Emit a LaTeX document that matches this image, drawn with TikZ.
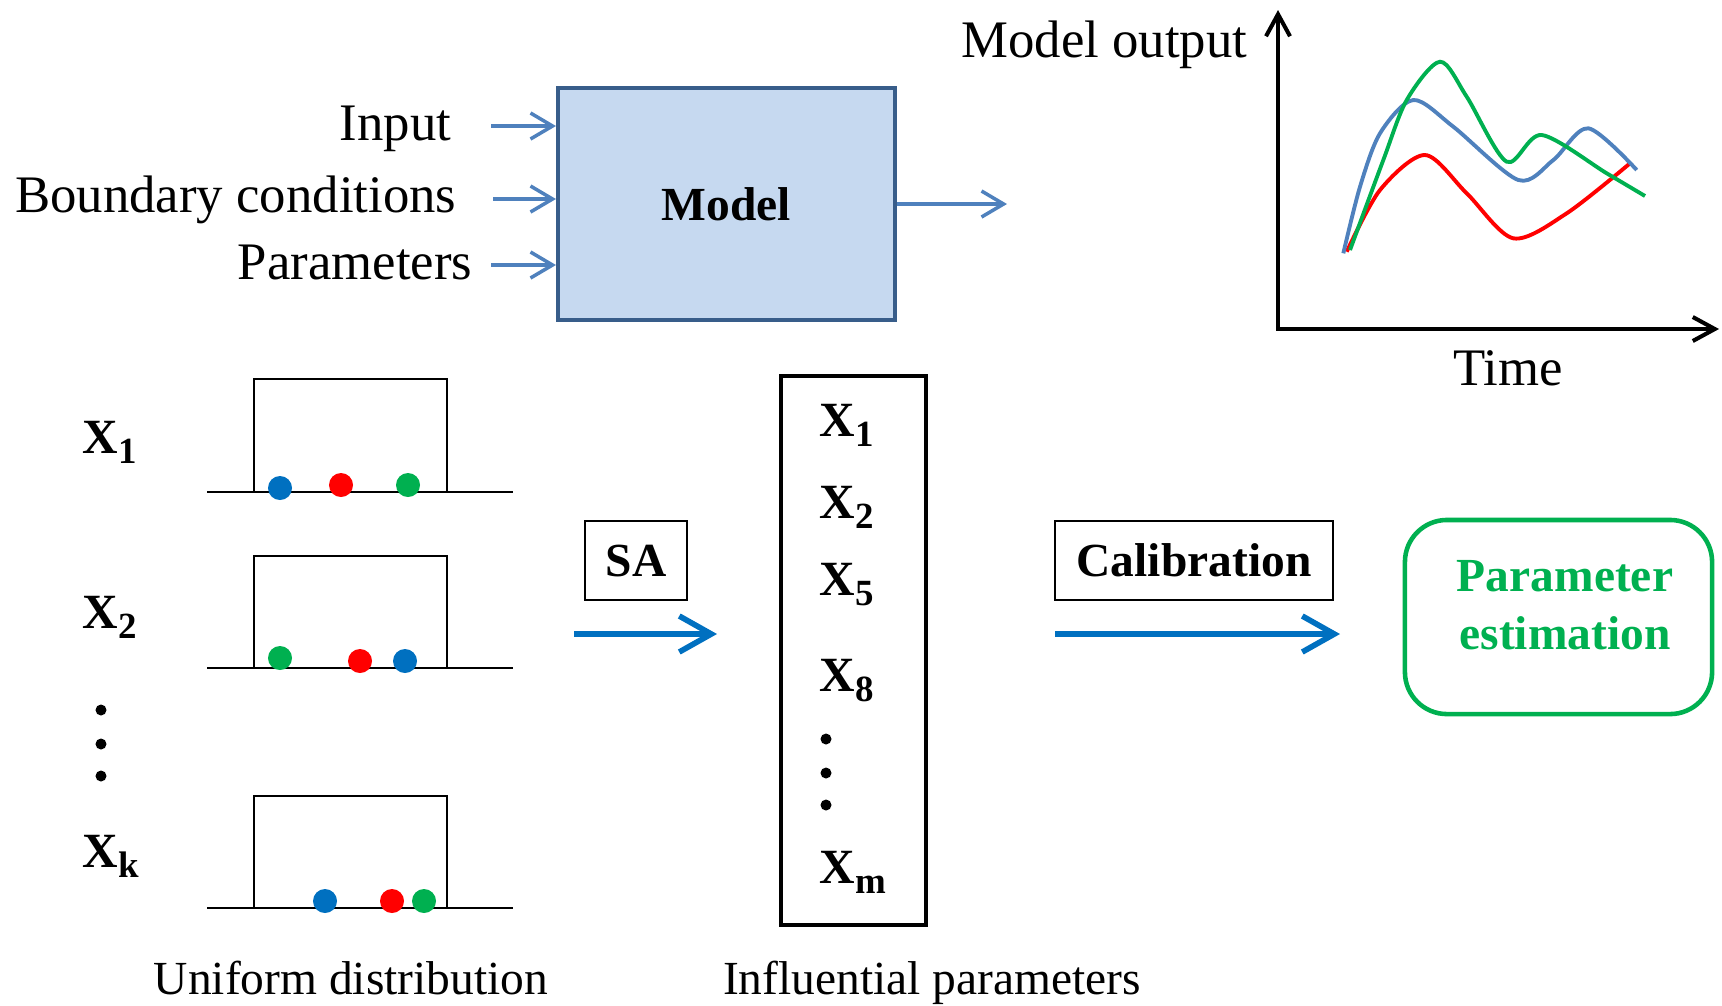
\documentclass[tikz,border=0pt]{standalone}
\usepackage{fontspec}
\setmainfont{Liberation Serif}
\usepackage{xcolor}
\usetikzlibrary{arrows.meta,positioning,calc}

\definecolor{modelfill}{HTML}{C6D9F0}
\definecolor{modeldraw}{HTML}{385D8A}
\definecolor{feedblue}{HTML}{4F81BD}
\definecolor{flowblue}{HTML}{0070C0}
\definecolor{estgreen}{HTML}{00B050}
\definecolor{ptred}{HTML}{FF0000}

\newcommand{\subx}[1]{\raisebox{-3pt}{\fontsize{10.5}{12}\selectfont #1}}

\begin{document}
\begin{tikzpicture}[x=0.01cm,y=-0.01cm,>=Latex]
  \tikzset{
    lbl/.style={font=\fontsize{15}{18}\selectfont, inner sep=0pt},
    small/.style={font=\fontsize{13.5}{16}\selectfont, inner sep=0pt},
    xlab/.style={font=\fontsize{14}{17}\selectfont\bfseries, inner sep=0pt},
    modelbox/.style={draw=modeldraw, fill=modelfill, line width=1.1pt, minimum width=3.37cm, minimum height=2.32cm, font=\fontsize{13.5}{16}\selectfont\bfseries},
    tagbox/.style={draw, line width=0.7pt, minimum height=0.79cm, font=\fontsize{13.5}{16}\selectfont\bfseries},
    listbox/.style={draw, line width=1.3pt, minimum width=1.45cm, minimum height=5.49cm},
    estbox/.style={draw=estgreen, line width=1.3pt, rounded corners=0.42cm, minimum width=3.07cm, minimum height=1.94cm},
    esttext/.style={align=center, text=estgreen, inner sep=0pt, font=\fontsize{13.5}{16.5}\selectfont\bfseries},
    feed/.style={draw=feedblue, line width=1pt, -{Straight Barb[length=2.2mm,width=2.6mm]}},
    flow/.style={draw=flowblue, line width=1.6pt, -{Straight Barb[length=3.2mm,width=3.6mm]}},
    axis/.style={line width=1.15pt, {Straight Barb[length=2.2mm,width=2.4mm]}-{Straight Barb[length=2.2mm,width=2.4mm]}},
    curve/.style={line width=1.1pt},
    pdf/.style={line width=0.8pt}
  }
  \useasboundingbox (0,0) rectangle (1722,1005);

  % model and its inputs
  \node[modelbox] (model) at (726.5,204) {Model};
  \node[lbl,anchor=base east] (inp) at (452,140) {Input};
  \node[lbl,anchor=base east] (bnd) at (457,212) {Boundary conditions};
  \node[lbl,anchor=base east] (par) at (473,279) {Parameters};
  \coordinate (inpA) at (491,126);
  \coordinate (bndA) at (493,199);
  \coordinate (parA) at (491,265);
  \draw[feed] (inpA) -- (inpA -| model.west);
  \draw[feed] (bndA) -- (bndA -| model.west);
  \draw[feed] (parA) -- (parA -| model.west);
  \coordinate (outB) at (1007,204);
  \draw[feed] (model.east) -- (outB);

  % output plot
  \coordinate (orig) at (1278,329);
  \coordinate (ytip) at (1278,10);
  \coordinate (xtip) at (1719,329);
  \draw[axis] (ytip) -- (orig) -- (xtip);
  \node[lbl,anchor=base east] (yname) at (1248,57) {Model output};
  \node[lbl,anchor=base] (xname) at (1508,385) {Time};
  \draw[curve,draw=ptred] plot[smooth] coordinates {(1346.7,251.7)(1380,190)(1425,155)(1466.7,193.3)(1513.3,238.3)(1566.7,213.3)(1630,163.3)};
  \draw[curve,draw=feedblue] plot[smooth] coordinates {(1343.3,253.3)(1360,186.7)(1380,133.3)(1413.3,100)(1453.3,126.7)(1518.3,180)(1553.3,160)(1588.3,128.3)(1636.7,170)};
  \draw[curve,draw=estgreen] plot[smooth] coordinates {(1350,250)(1383.3,160)(1406.7,100)(1440,61.7)(1466.7,96.7)(1506.7,161.7)(1541.7,135)(1606.7,173.3)(1645,196)};

  % uniform distributions
  \node[xlab,anchor=base west] (xa) at (82,453) {X\subx{1}};
  \node[xlab,anchor=base west] (xb) at (82,628) {X\subx{2}};
  \node[xlab,anchor=base west] (xk) at (82,867) {X\subx{k}};
  \fill (101,710) circle (0.055cm);
  \fill (101,744) circle (0.055cm);
  \fill (101,776) circle (0.055cm);
  \draw[pdf] (207,492) -- (513,492);
  \draw[pdf] (254,492) |- (447,379) -- (447,492);
  \draw[pdf] (207,668) -- (513,668);
  \draw[pdf] (254,668) |- (447,556) -- (447,668);
  \draw[pdf] (207,908) -- (513,908);
  \draw[pdf] (254,908) |- (447,796) -- (447,908);
  \fill[flowblue] (280,488) circle (0.12cm);
  \fill[ptred] (341,485) circle (0.12cm);
  \fill[estgreen] (408,485) circle (0.12cm);
  \fill[estgreen] (280,658) circle (0.12cm);
  \fill[ptred] (360,661) circle (0.12cm);
  \fill[flowblue] (405,661) circle (0.12cm);
  \fill[flowblue] (325,901) circle (0.12cm);
  \fill[ptred] (392,901) circle (0.12cm);
  \fill[estgreen] (424,901) circle (0.12cm);
  \node[small,anchor=base] (unif) at (351,994) {Uniform distribution};

  % sensitivity analysis
  \node[tagbox,minimum width=1.02cm] (sa) at (636,560.5) {SA};
  \coordinate (saA) at (574,634);
  \coordinate (saB) at (717,634);
  \draw[flow] (saA) -- (saB);

  % influential parameters
  \node[listbox] (infl) at (853.5,650.5) {};
  \node[xlab,anchor=base west] (p1) at (819,436) {X\subx{1}};
  \node[xlab,anchor=base west] (p2) at (819,518) {X\subx{2}};
  \node[xlab,anchor=base west] (p5) at (819,595) {X\subx{5}};
  \node[xlab,anchor=base west] (p8) at (819,691) {X\subx{8}};
  \fill (826,739) circle (0.055cm);
  \fill (826,773) circle (0.055cm);
  \fill (826,805) circle (0.055cm);
  \node[xlab,anchor=base west] (pm) at (819,883) {X\subx{m}};
  \node[small,anchor=base] (infllab) at (932,994) {Influential parameters};

  % calibration
  \node[tagbox,minimum width=2.78cm] (calib) at (1194,560.5) {Calibration};
  \coordinate (calA) at (1055,634);
  \coordinate (calB) at (1340,634);
  \draw[flow] (calA) -- (calB);
  \node[estbox] (est) at (1558.5,617) {};
  \node[esttext] (estt) at (1565,605) {Parameter\\estimation};
\end{tikzpicture}
\end{document}
